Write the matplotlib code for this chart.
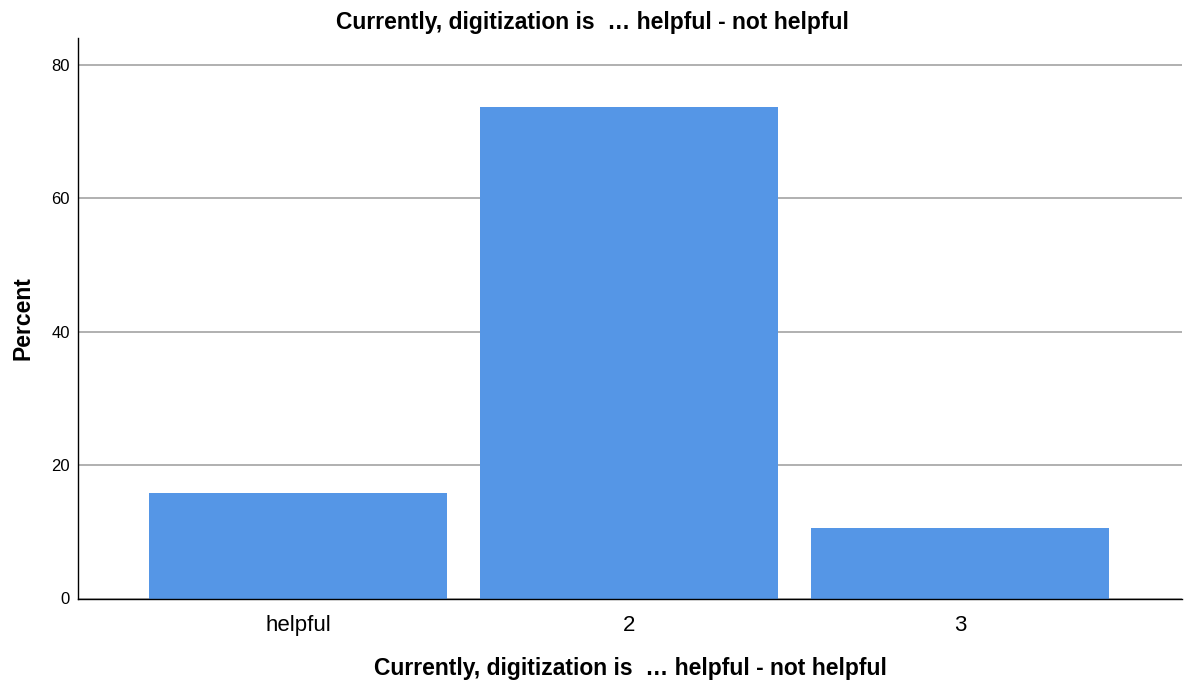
import numpy as np
import matplotlib.pyplot as plt

plt.rcParams['font.family'] = ['Liberation Sans', 'DejaVu Sans']

categories = ['helpful', '2', '3']
percent = [15.8, 73.7, 10.5]
title = 'Currently, digitization is  \u2026 helpful - not helpful'

fig = plt.figure(figsize=(11.85, 6.84), dpi=100)
ax = fig.add_axes([0.0658, 0.125, 0.9317, 0.8194])

x = np.arange(len(categories))
ax.bar(x, percent, width=0.9, color='#5596e6', zorder=2)

ax.set_xlim(-0.665, 2.67)
ax.set_ylim(0, 84)
ax.set_yticks([0, 20, 40, 60, 80])
ax.set_xticks(x)
ax.set_xticklabels(categories, fontsize=16)
ax.tick_params(axis='both', length=0)
ax.tick_params(axis='y', labelsize=12, pad=6)
ax.tick_params(axis='x', pad=12)
ax.yaxis.grid(True, color='#aaaaaa', linewidth=1.3, zorder=1)
ax.set_axisbelow(True)

for s in ['top', 'right']:
    ax.spines[s].set_visible(False)
ax.spines['left'].set_linewidth(1.0)
ax.spines['bottom'].set_linewidth(1.0)

fig.text(0.5, 0.967, title, fontsize=16.5, fontweight='bold',
         ha='center', va='center')
ax.set_xlabel(title, fontsize=16.5, fontweight='bold', labelpad=15)
ax.set_ylabel('Percent', fontsize=16.5, fontweight='bold', labelpad=12)

fig.savefig('out.png', dpi=100)
